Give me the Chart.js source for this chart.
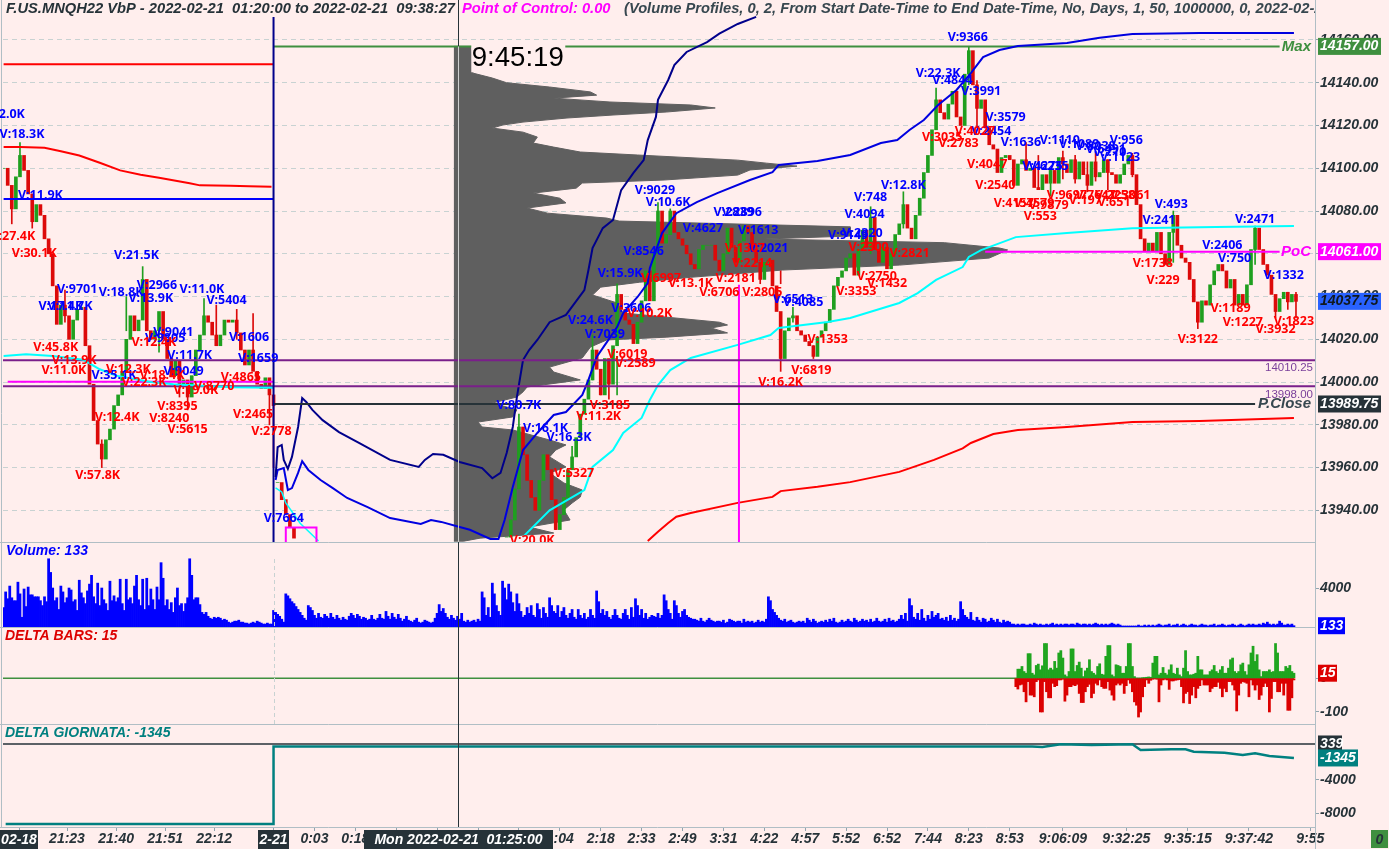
<!DOCTYPE html>
<html>
<head>
<meta charset="utf-8">
<title>F.US.MNQH22 VbP</title>
<script src="https://cdn.jsdelivr.net/npm/chart.js@4/dist/chart.umd.min.js"></script>
<style>
  html, body { margin: 0; padding: 0; background: #ffeeed; overflow: hidden; }
  canvas { display: block; }
</style>
</head>
<body>
<canvas id="chart" width="1389" height="849"></canvas>
<script>
// candle closes, a bar every second slot
const leftCloses = [14100,14092,14081,14096,14106,14099,14088,14075,14083,14078,
  14067,14060,14045,14027,14036,14031,14020,14029,14034,14035,
  14017,13999,13982,13971,13964,13973,13978,13989,13994,14005,
  14020,14031,14024,14029,14048,14024,14020,14024,14033,14020,
  14011,14003,14010,13999,14001,13993,14003,14015,14022,14031,
  14028,14022,14017,14022,14029,14028,14029,14023,14015,14008,
  14015,14005,13999,13997,14002,13994,13989];
const midCloses = [13953,13945,13938,13932,13927];
const rightCloses = [13927.5,13935.5,13950,13979,13966,13954,13946,13940,13954,13966,
  13959,13945,13931,13938,13946,13959,13965,13974,13985,13992,
  14001,14015,14006,13994,14011,13999,14017,14041,14034,14029,
  14027,14018,14028,14038,14052,14038,14060,14080,14065,14069,
  14080,14070,14067,14064,14060,14055,14053,14062,14064,14064,
  14064,14057,14052,14060,14072,14063,14056,14066,14073,14070,
  14062,14056,14048,14056,14057,14045,14033,14011,14024,14030,
  14031,14024,14022,14019,14017,14012,14021,14024,14028,14034,
  14045,14049,14052,14058,14060,14050,14062,14071,14063,14077,
  14062,14056,14063,14053,14060,14069,14074,14083,14072,14067,
  14078,14086,14098,14106,14118,14132,14126,14123,14130,14136,
  14124,14120,14144,14155,14139,14128,14132,14119,14111,14109,
  14098,14105,14106,14104,14092,14102,14104,14099,14100,14091,
  14090,14097,14093,14099,14093,14105,14102,14098,14104,14095,
  14103,14097,14092,14103,14096,14098,14104,14098,14097,14093,
  14097,14102,14106,14097,14083,14067,14061,14065,14061,14070,
  14060,14055,14070,14078,14064,14058,14056,14048,14037.5,14028,
  14038,14036,14045.5,14052,14055,14052,14044,14048,14036,14041,
  14036,14045.5,14062,14072,14062,14055,14050,14041,14033,14039,
  14042,14037.5,14041,14037.75];
const leftStart = 0, midStart = 134, rightStart = 246;

// notable wicks: bar, low, high
const wicks = [[8,14098,14112],[4,14074,14088],[14,14072,14085],[30,14028,14043],[48,13960,13973],
  [68,14030,14054],[98,14026,14039],[90,13987,14000],[86,13993,14004],[114,14020,14034],
  [130,13980,13996],[132,13960,13992],[252,13966,13985],[270,13931,13940],[278,13965,13970],
  [288,14001,14022],[292,13994,14006],[296,13992,14010],[300,13994,14012],[300,14030,14046],
  [320,14060,14084],[326,14069,14081],[370,14046,14056],[380,14046,14052],[380,14005,14011],
  [386,14028,14035],[396,14011,14017],[424,14060,14082],[440,14072,14089],[456,14120,14137.5],
  [472,14139,14157],[476,14119,14141],[572,14056,14080],[584,14025,14037],[612,14055,14073],
  [622,14030,14040],[500,14100,14112],[506,14090,14106],[530,14089,14103],[552,14096,14107],
  [628,14034,14042],[632,14030,14042],[60,14024,14040],[76,14014,14032],[104,14020,14036],
  [122,14012,14032],[512,14087,14100],[518,14095,14108],[524,14093,14106],[534,14094,14107],[540,14090,14104]];

// candle chart lines
const navyBars = [133,134,136,137,139,141,144,146,148,151,156,164,174,189,203,206,210,215,223,234,239,243,246,249,251,254,257,261,267,275,284,286,288,293,298,302,308,313,315,319,320,325,328,334,344,350,359,368];
const navyPrices = [13955.6,13969.6,13970.6,13963.6,13959.4,13965,13979,13992.5,13990.7,13987,13982.2,13976.6,13971.5,13963.6,13960.3,13963.6,13966.4,13966,13962.6,13959.8,13955,13957.5,13966.8,13979,13993,14010.3,14015,14019.7,14028,14031.4,14043,14052.4,14062.7,14072,14075.8,14089.8,14097.8,14103.8,14113.2,14124,14132,14141.3,14148.3,14154.4,14159,14163,14167.5,14170.8];
const blueBars = [133,134,137,139,141,144,146,149,155,161,168,178,189,204,209,214,223,228,238,242,245,249,254,261,269,275,283,286,290,295,300,303,310,315,316,322,329,339,349,365,376,379,398,414,429,437,443,450,457,466,473,479,487,496,520,536,552,585,631];
const bluePrices = [13954.2,13958.9,13959.8,13949.5,13950.4,13957.5,13963,13958.9,13954.2,13950.4,13945.8,13941.5,13936.4,13933.6,13935.5,13934.6,13932.2,13930.9,13926.6,13926.6,13935.5,13950.9,13968.2,13976.2,13984.6,13986,13994,14001,14011.7,14018.7,14025.7,14032.3,14039.8,14046.3,14053.3,14069.7,14079,14084.2,14088.4,14094.5,14098.2,14101.5,14103.4,14106.2,14111.8,14113.2,14117.9,14122.6,14129.6,14136.6,14144.5,14152,14155.3,14157.2,14158.6,14161,14162.8,14163.3,14163.3];
const cyanEarlyBars = [133,136,138,145,154];
const cyanEarlyPrices = [13950.5,13948.6,13943.5,13934,13925.7];
const cyanBars = [254,267,284,288,298,303,312,316,320,326,336,359,375,379,403,414,438,447,456,469,472,478,495,520,552,593,631];
const cyanPrices = [13927.6,13940,13949.5,13960.3,13968.2,13976.2,13983.2,13991.6,13998.6,14005.6,14011.3,14017.4,14022,14025.3,14028.1,14030,14037,14041.6,14047.8,14053.8,14058.5,14061.7,14067.8,14069.7,14072,14072.5,14073];
const redBars = [315,320,325,329,336,359,376,380,398,414,438,455,469,473,484,496,520,552,585,631];
const redPrices = [13925.7,13930,13934.1,13937,13938.8,13943.5,13946.3,13949,13951,13953.2,13958,13963.6,13969,13971.5,13975.7,13977.6,13979,13981.3,13981.8,13983.2];
const prevRedBars = [0,8,20,28,37,47,57,67,76,91,96,111,120,131];
const prevRedPrices = [14110,14110,14109.6,14108,14106,14102.6,14099,14097,14095.6,14093,14092,14091.8,14091.6,14091.3];
const prevCyanBars = [0,11,24,39,47,55,72,83,112,132];
const prevCyanPrices = [14012.2,14013,14012.2,14010.4,14006,14003,14000,13999,13997.6,13997.4];

// volume profile outline, top to bottom
const profilePrices = [14157,14144.5,14142.2,14140,14138,14135.7,14134.2,14132.8,14131,14129.6,14128.2,14126.3,14124.9,14123.5,14121.6,14120.2,14118.8,14116.9,14114.6,14111.8,14109.9,14107.6,14106.2,14103.8,14102.4,14101,14099.2,14096.8,14094.5,14093.1,14090.7,14088.4,14086,14083.8,14081.4,14079,14076.7,14075.3,14072.6,14072,14068.3,14066.9,14065.2,14062.7,14061.8,14058,14054.7,14052.4,14049,14046.7,14044.4,14040.7,14037,14032.3,14028,14026.7,14025.3,14023,14021,14019.7,14016.4,14011.3,14007,14004.7,14001,13997.7,13995.4,13993,13990.2,13987,13983.7,13981.3,13979,13977.6,13972.9,13970.6,13968.2,13965,13960.3,13957.5,13952.8,13949.5,13946.2,13943.4,13940.2,13935.5,13932.2,13929.4,13927,13925.6];
const profileEnds = [228.5,229.5,239,246,267,287,290,269,296.5,336,348,324,298,275.5,254,244,239,254,261,259,269,282,310,359,373,388,365,359,323,283,280,259,272,275,256,266,295,301,414,414,414,372,460,487,491,482,438,381,336,311,292,288,300,303,350,354,346,354,324,295,287,283,267,269,282,256,254,251,239,251,249,232,234,249,267,275,270,267,275,267,274,283,282,278,274,277,257,269,233,225];
const profileBase = 220.2;

// volume per bar, in hundreds
const volumeHundreds = [20,36,29,42,30,27,27,46,34,10, 39,21,41,33,33,31,31,31,27,22,
  31,26,70,56,40,27,30,18,42,36, 25,30,40,38,26,28,17,48,35,30,
  24,37,44,53,31,24,45,22,40,28, 24,17,47,27,32,26,30,49,24,17,
  49,28,30,24,42,53,28,22,49,18, 50,22,39,28,18,41,28,66,50,22,
  28,18,25,15,30,40,22,24,16,24, 30,70,53,28,30,30,23,15,13,15,
  11,9,8,10,9,10,9,7,8,7, 5,4,5,6,6,7,5,5,4,4,
  3,4,5,4,6,5,4,3,3,4, 3,3,17,15,13,11,8,5,34,32,
  29,26,24,21,18,15,12,9,7,22, 20,17,12,9,14,10,9,13,11,9,
  14,10,8,12,9,7,10,8,7,11, 14,12,9,13,11,8,10,9,7,8,
  12,8,7,9,13,9,8,16,11,8, 14,10,8,13,9,6,8,11,7,6,
  5,7,9,5,4,5,7,6,5,4, 5,9,14,23,16,19,14,10,8,12,
  9,7,11,8,14,6,5,7,5,6, 7,5,8,6,36,30,12,20,10,45,
  34,22,16,12,47,40,28,44,36,25, 16,34,24,16,10,12,20,14,22,12,
  10,24,18,9,20,14,10,30,22,16, 14,22,10,16,20,12,9,14,18,10,
  8,18,12,9,14,8,10,18,12,9, 37,26,14,18,12,16,10,8,12,18,
  12,9,8,14,18,12,8,20,10,29, 22,12,18,9,14,8,10,12,11,10,
  14,9,12,33,27,18,14,8,27,22, 14,10,16,18,12,10,9,8,8,7,
  6,9,6,5,7,9,7,6,5,6, 6,5,7,4,5,8,7,6,5,6,
  6,4,8,5,6,5,6,4,5,7, 5,6,5,8,31,27,18,15,12,9,
  7,6,8,5,6,7,5,4,5,6, 5,6,4,9,7,5,8,6,4,5,
  6,5,7,5,8,6,9,5,4,5, 7,5,6,8,6,5,9,7,5,6,
  8,6,7,5,8,5,6,9,6,5, 6,8,5,9,6,7,5,6,8,12,
  8,14,6,29,22,10,8,14,7,18, 9,6,12,8,16,10,12,14,8,9,
  7,10,6,12,7,9,6,8,26,18, 12,10,8,15,7,6,10,7,5,9,
  8,5,6,9,7,5,8,5,4,7, 5,6,5,3,3,2,3,2,3,3,
  2,2,3,2,4,3,2,3,2,2, 3,2,3,4,2,3,2,3,2,3,
  3,2,3,3,2,4,3,2,3,3, 2,3,2,3,4,3,2,3,2,3,
  2,3,4,3,2,3,2,1,1,1, 1,1,1,1,1,2,1,1,2,1,
  2,1,2,1,2,3,2,1,2,2, 3,1,2,2,3,1,2,3,2,1,
  2,3,2,2,1,2,3,2,2,1, 2,2,3,1,2,2,3,2,1,2,
  2,3,2,1,2,3,2,1,2,3, 2,3,2,2,3,2,4,3,5,3,
  2,3,2,3,6,4,2,2,3,2,3,1.33];

// delta bars, starting at deltaStart
const deltaStart = 495;
const deltaUp = [0,27,27,35,20,15,73,73,15,10, 38,42,25,37,103,103,25,30,25,50,
  30,75,82,60,10,5,20,87,87,20, 38,48,30,5,22,30,55,20,15,10,
  35,43,12,10,65,97,97,10,5,40, 38,35,15,15,35,103,103,35,5,0,
  0,0,1,2,3,4,3, 45,65,65,10,15,32,15,10,25,40,
  15,12,30,10,5,30,82,20,10,10, 12,15,65,25,25,10,10,10,20,25,
  38,20,15,25,35,15,15,30,55,60, 20,15,20,40,45,20,10,40,75,95,
  50,70,25,5,20,20,20,25,18,20, 103,75,20,20,20,35,30,38,20,15];
const deltaDown = [-25,-32,-20,-18,-40,-70,-10,-50,-50,-55, -10,-5,-100,-100,-10,-40,-58,-58,-15,-25,
  -22,-5,-5,-3,-68,-50,-25,-25,-20,-22, -18,-45,-72,-72,-40,-25,-18,-58,-45,-15,
  -20,-5,-25,-30,-30,-10,-35,-50,-65,-20, -15,-20,-15,-45,-22,-5,-15,-40,-70,-80,
  -115,-100,-55,-25,-5,-15,-6, -3,-2,-3,-70,-20,-5,-3,-5,-33,-8,
  -8,-6,-5,-4,-25,-73,-45,-40,-75,-50, -25,-58,-30,-22,-5,-20,-20,-20,-40,-30,
  -25,-25,-12,-30,-55,-30,-40,-10,-10,-20, -35,-97,-50,-15,-10,-12,-15,-55,-5,-20,
  -35,-20,-63,-50,-25,-15,-25,-100,-60,-10, -10,-40,-40,-15,-50,-15,-95,-95,-58,-5];

// cumulative delta of the day
const dayDeltaBars = [1,132,132,503,508,517,532,552,556,571,578,582,597,606,612,619,631];
const dayDeltaValues = [-9301,-9301,50,50,-25,300,216,300,-386,-300,-300,-590,-710,-990,-780,-1100,-1345];

// bar labels: bar, price, text
const blueTags = [[4,14125,'2.0K'],[9,14116,'V:18.3K'],[18,14087.5,'V:11.9K'],[65,14059,'V:21.5K'],[36,14043.5,'V:9701'],
  [28,14035.5,'V:17.4K'],[32.5,14035.5,'V:11.7K'],[57.5,14042,'V:18.8K'],[75,14045.4,'V:2966'],[72,14039,'V:13.9K'],
  [97,14043.5,'V:11.0K'],[109,14038.4,'V:5404'],[83,14023.4,'V:9041'],[79,14020.6,'V:9805'],[120,14021,'V:1606'],
  [91,14012.6,'V:11.7K'],[124.5,14011,'V:1659'],[54,14003,'V:35.1K'],[88,14005,'V:9049'],[137,13936,'V:7664'],
  [252,13989,'V:80.7K'],[265,13978.5,'V:16.1K'],[276.5,13974.3,'V:16.3K'],[287,14029,'V:24.6K'],[294,14022.5,'V:7039'],
  [301.5,14051,'V:15.9K'],[307,14034.6,'V:3606'],[313,14061,'V:8546'],[318.5,14089.4,'V:9029'],[325,14084,'V:10.6K'],
  [342,14072,'V:4627'],[357,14079.5,'V:2839'],[361,14079.5,'V:2896'],[369,14071,'V:1613'],[374,14062.7,'V:2021'],
  [386,14038.8,'V:6513'],[391,14037.4,'V:4085'],[413,14068.8,'V:9149'],[420,14069.7,'V:2320'],[421,14078.5,'V:4094'],
  [424,14086.5,'V:748'],[440,14092,'V:12.8K'],[457,14144.5,'V:22.3K'],[464,14141,'V:4844'],[478,14135.7,'V:3991'],
  [471.5,14161.4,'V:9366'],[490,14124,'V:3579'],[483,14117.4,'V:2454'],[497.5,14112,'V:1636'],[516.5,14113,'V:1110'],
  [526,14111,'V:1089'],[534,14110,'V:8038'],[539,14109,'V:6491'],[541,14107.6,'V:710'],[546,14105,'V:1123'],
  [549,14113,'V:956'],[508,14101,'V:4275'],[511,14101,'V:6235'],[596,14063.7,'V:2406'],[602,14057.6,'V:750'],
  [612,14076.3,'V:2471'],[626,14050,'V:1332'],[565,14075.4,'V:241'],[571,14083.2,'V:493']];
const redTags = [[4.5,14068.3,'V:27.4K'],[15,14060.3,'V:30.1K'],[25.5,14016.4,'V:45.8K'],[34.5,14010,'V:13.9K'],[29.5,14005.6,'V:11.0K'],
  [61,14006,'V:12.3K'],[73.5,14018.4,'V:12.4K'],[68.7,14000,'V:22.3K'],[77.5,14003,'V:18.4K'],[103,13998,'V:8770'],
  [94,13996.3,'V:19.0K'],[116,14002,'V:4865'],[85,13988.4,'V:8395'],[81,13983,'V:8240'],[90,13978,'V:5615'],
  [122,13985,'V:2465'],[131,13977,'V:2778'],[55.5,13983.6,'V:12.4K'],[46,13956.5,'V:57.8K'],
  [258.5,13926,'V:20.0K'],[279,13957.4,'V:5327'],[291,13984,'V:11.2K'],[296.5,13989,'V:3185'],[309,14008.5,'V:2589'],
  [305,14013,'V:6019'],[316,14032,'V:10.2K'],[321.5,14048.6,'V:6997'],[336,14046.3,'V:13.1K'],[350,14042,'V:6706'],
  [358,14048.6,'V:2181'],[371,14041.7,'V:2805'],[366,14055.6,'V:2214'],[362.5,14062.7,'V:1307'],[380,14000,'V:16.2K'],
  [395,14005.3,'V:6819'],[403,14020,'V:1353'],[417,14042.6,'V:3353'],[427,14049.6,'V:2750'],[432,14046.3,'V:1432'],
  [423,14063.2,'V:2300'],[443,14060.3,'V:2821'],[459,14114.6,'V:3035'],[467,14111.8,'V:2783'],[475,14117.4,'V:4027'],
  [481,14102,'V:4047'],[485,14092,'V:2540'],[494,14083.7,'V:4157'],[504,14083.7,'V:4579'],[511,14082.4,'V:9879'],
  [507,14077.7,'V:553'],[520,14087.4,'V:9697'],[534,14087.4,'V:7647'],[543.5,14087.4,'V:2258'],[551,14087.4,'V:3061'],
  [543,14084,'V:651'],[529,14085,'V:197'],[562,14055.6,'V:1738'],[567,14047.7,'V:229'],[584,14020,'V:3122'],
  [600,14034.6,'V:1189'],[606,14028,'V:1227'],[622,14024.8,'V:3932'],[631,14028.5,'V:1823']];

// axis ticks
const priceTicks = [14160,14140,14120,14100,14080,14060,14040,14020,14000,13980,13960,13940];
const volumeTicks = [4000];
const deltaTicks = [0,-100];
const dayDeltaTicks = [-4000,-8000];
const xTickBars = [8,31,55,79,103,132,152,172,192,212,232,252,272,292,312,332,352,372,392,412,432,452,472,492,518,549,579,609,639];
const xTickLabels = ['','21:23','21:40','21:51','22:12','','0:03','0:18','','','','','1:04','2:18','2:33','2:49','3:31','4:22','4:57','5:52','6:52','7:44','8:23','8:53','9:06:09','9:32:25','9:35:15','9:37:42','9:55'];

const DARK = '#263238';
const CANDLE_UP = '#1f9f1f';
const CANDLE_DOWN = '#dc0a0a';
const AXIS_FONT = { family: '"Liberation Sans"', size: 14, weight: 'bold', style: 'italic' };
const X_MIN = -0.3, X_MAX = 641.3, CROSS_BAR = 222.4;
const PRICE_TOP = 14178.7, PRICE_BOTTOM = 13925.2;

function zip(bars, values) { return bars.map(function(b, i) { return { x: b, y: values[i] }; }); }

function lineSet(points, color, width, axis, order) {
  return { type: 'line', data: points, borderColor: color, borderWidth: width, pointRadius: 0,
    tension: 0, fill: false, yAxisID: axis || 'price', xAxisID: 'x', order: order === undefined ? 1 : order };
}

function candleSet(closes, start) {
  var bodies = closes.map(function(c, i) {
    return { x: start + i * 2, y: [i ? closes[i - 1] : c, c] };
  });
  return { type: 'bar', data: bodies, barThickness: 3, grouped: false, yAxisID: 'price', xAxisID: 'x', order: 4,
    backgroundColor: bodies.map(function(b) { return b.y[1] >= b.y[0] ? CANDLE_UP : CANDLE_DOWN; }) };
}

function wickColor(bar) {
  var groups = [[leftCloses, leftStart], [midCloses, midStart], [rightCloses, rightStart]];
  for (var g = 0; g < groups.length; g++) {
    var k = (bar - groups[g][1]) / 2;
    if (k >= 1 && k < groups[g][0].length) {
      return groups[g][0][k] >= groups[g][0][k - 1] ? CANDLE_UP : CANDLE_DOWN;
    }
  }
  return CANDLE_DOWN;
}

function setTicks(values) {
  return function(scale) { scale.ticks = values.map(function(v) { return { value: v }; }); };
}

function yAxis(top, bottom, weight, order, ticks, labelFn, gridOn) {
  return {
    type: 'linear', position: 'right', stack: 'panes', stackWeight: weight, weight: order,
    min: bottom, max: top,
    afterBuildTicks: setTicks(ticks),
    afterFit: function(scale) { scale.width = 74; scale.paddingTop = 0; scale.paddingBottom = 0; },
    border: { display: false, dash: gridOn ? [5, 4] : [] },
    grid: { color: '#c8d2d2', drawOnChartArea: gridOn, tickLength: 4, tickColor: '#90a4ae', lineWidth: 1, tickBorderDash: [] },
    ticks: { color: DARK, font: AXIS_FONT, padding: 1, autoSkip: false, includeBounds: false, callback: labelFn }
  };
}

function plain(v) { return String(v); }

// text and boxes that sit on top of the marks
const overlay = {
  id: 'overlay',
  afterDatasetsDraw: function(chart) {
    var ctx = chart.ctx, sx = chart.scales.x, area = chart.chartArea;
    var price = chart.scales.price, vol = chart.scales.volume, delta = chart.scales.delta, day = chart.scales.dayDelta;
    var crossX = sx.getPixelForValue(CROSS_BAR);
    var rightX = area.right;

    function text(str, x, y, color, font, align) {
      ctx.font = font; ctx.fillStyle = color; ctx.textAlign = align || 'left'; ctx.textBaseline = 'middle';
      ctx.fillText(str, x, y);
    }
    function vline(x, y0, y1, color, dash) {
      ctx.save(); ctx.strokeStyle = color; ctx.lineWidth = 1; ctx.setLineDash(dash || []);
      ctx.beginPath(); ctx.moveTo(Math.round(x) + 0.5, y0); ctx.lineTo(Math.round(x) + 0.5, y1); ctx.stroke(); ctx.restore();
    }
    function hline(y, x0, x1, color) {
      ctx.save(); ctx.strokeStyle = color; ctx.lineWidth = 1;
      ctx.beginPath(); ctx.moveTo(x0, Math.round(y) + 0.5); ctx.lineTo(x1, Math.round(y) + 0.5); ctx.stroke(); ctx.restore();
    }

    // pane frame
    [price.bottom, vol.bottom, delta.bottom, day.bottom].forEach(function(y) { hline(y, 0, rightX, '#b0bec5'); });
    vline(rightX, 0, chart.height, '#b0bec5');
    vline(1, 0, day.bottom, '#b0bec5');
    vline(sx.getPixelForValue(132), vol.top + 17, delta.bottom, '#c8d2d2', [4, 3]);

    // crosshair, light where it runs over the profile
    vline(crossX, 0, day.bottom, DARK);
    vline(crossX, price.getPixelForValue(14157), price.bottom, '#d0d0d0');

    // clock box
    ctx.fillStyle = '#ffeeed';
    ctx.fillRect(sx.getPixelForValue(228.7), price.getPixelForValue(14158), 94, 28);
    text('9:45:19', sx.getPixelForValue(228.9), 58, '#000', '27.6px "Liberation Sans"');

    // bar labels, kept inside the price pane
    ctx.save();
    ctx.beginPath(); ctx.rect(0, 0, rightX, price.bottom); ctx.clip();
    var tagFont = 'bold 12.5px "Noto Sans"';
    blueTags.forEach(function(t) { text(t[2], sx.getPixelForValue(t[0]), price.getPixelForValue(t[1]), '#0000ff', tagFont, 'center'); });
    redTags.forEach(function(t) { text(t[2], sx.getPixelForValue(t[0]), price.getPixelForValue(t[1]), '#ff0000', tagFont, 'center'); });
    ctx.restore();

    // header
    var head = 'italic bold 14.7px "Liberation Sans"';
    text('F.US.MNQH22 VbP - 2022-02-21  01:20:00 to 2022-02-21  09:38:27', 6, 9, DARK, head);
    text('Point of Control: 0.00', 462, 9, '#ff00ff', head);
    ctx.save();
    ctx.beginPath(); ctx.rect(0, 0, rightX, 20); ctx.clip();
    text('(Volume Profiles, 0, 2, From Start Date-Time to End Date-Time, No, Days, 1, 50, 1000000, 0, 2022-02-21', 624, 9, '#37474f', head);
    ctx.restore();

    // pane titles
    var pane = 'italic bold 14px "Liberation Sans"';
    text('Volume: 133', 6, vol.top + 9, '#0000ff', pane);
    text('DELTA BARS: 15', 5, delta.top + 9, '#dd0000', pane);
    text('DELTA GIORNATA: -1345', 5, day.top + 9, '#008080', pane);

    // line captions
    var cap = 'italic bold 15px "Liberation Sans"';
    text('Max', 1311, price.getPixelForValue(14157), '#3f8f3f', cap, 'right');
    text('PoC', 1311, price.getPixelForValue(14061), '#ff00ff', cap, 'right');
    text('P.Close', 1311, price.getPixelForValue(13989.75), '#37474f', cap, 'right');
    text('14010.25', 1313, price.getPixelForValue(14010.25) + 8, '#7a3f9a', '11.5px "Liberation Sans"', 'right');
    text('13998.00', 1313, price.getPixelForValue(13998) + 8, '#7a3f9a', '11.5px "Liberation Sans"', 'right');

    // value flags on the right axis
    function flag(y, str, bg, fg, w) {
      ctx.fillStyle = bg; ctx.fillRect(1318, y - 8.5, w, 17);
      text(str, 1320, y, fg, 'italic bold 14px "Liberation Sans"');
    }
    flag(price.getPixelForValue(14157), '14157.00', '#3f8f3f', '#fff', 63);
    flag(price.getPixelForValue(14061), '14061.00', '#ff00ff', '#fff', 63);
    flag(price.getPixelForValue(14037.75), '14037.75', '#2962ff', '#10181c', 63);
    flag(price.getPixelForValue(13989.75), '13989.75', DARK, '#fff', 63);
    flag(vol.getPixelForValue(133), '133', '#0000ff', '#fff', 27);
    flag(delta.getPixelForValue(15), '15', '#dd0000', '#fff', 19);
    flag(day.getPixelForValue(339), '339', DARK, '#fff', 24);
    flag(day.getPixelForValue(-1345), '-1345', '#008080', '#fff', 40);

    // time axis flags
    function timeFlag(x0, x1, str) {
      ctx.fillStyle = DARK; ctx.fillRect(x0, day.bottom + 3, x1 - x0, 19);
      text(str, (x0 + x1) / 2, day.bottom + 13, '#fff', 'italic bold 14px "Liberation Sans"', 'center');
    }
    timeFlag(0, 38, '02-18');
    timeFlag(258, 289, '2-21');
    timeFlag(364, 553, 'Mon 2022-02-21  01:25:00');
    ctx.fillStyle = '#3f8f3f'; ctx.fillRect(1371, 830, 17, 18);
    text('0', 1379.5, 840, DARK, 'italic bold 14px "Liberation Sans"', 'center');
  }
};

// volume profile polygon closed on its base
var profilePoints = [{ x: profileBase, y: profilePrices[0] }]
  .concat(zip(profileEnds, profilePrices))
  .concat([{ x: profileBase, y: profilePrices[profilePrices.length - 1] }]);

var datasets = [
  { type: 'line', data: profilePoints, borderColor: '#5f5f5f', borderWidth: 1, backgroundColor: '#5f5f5f', pointRadius: 0,
    tension: 0, fill: 'shape', yAxisID: 'price', xAxisID: 'x', order: 9 },
  { type: 'bar', data: wicks.map(function(w) { return { x: w[0], y: [w[1], w[2]] }; }), barThickness: 1, grouped: false,
    backgroundColor: wicks.map(function(w) { return wickColor(w[0]); }), yAxisID: 'price', xAxisID: 'x', order: 5 },
  candleSet(leftCloses, leftStart),
  candleSet(midCloses, midStart),
  candleSet(rightCloses, rightStart),
  lineSet(zip([0, 132], [14148.7, 14148.7]), '#ff0000', 2),
  lineSet(zip(prevRedBars, prevRedPrices), '#ff0000', 2),
  lineSet(zip([0, 132], [14085.6, 14085.6]), '#0000ff', 2),
  lineSet(zip(prevCyanBars, prevCyanPrices), '#00ffff', 2),
  lineSet(zip([2, 132], [14000.2, 14000.2]), '#ff00ff', 2),
  lineSet(zip([132, 624], [14157, 14157]), '#3f8f3f', 2, 'price', 3),
  lineSet(zip([480, 624], [14061, 14061]), '#ff00ff', 2),
  lineSet(zip([132, 612], [13989.75, 13989.75]), DARK, 2),
  lineSet(zip([X_MIN, X_MAX], [14010.25, 14010.25]), '#7a1f8a', 2),
  lineSet(zip([X_MIN, X_MAX], [13998, 13998]), '#7a1f8a', 2),
  lineSet(zip([359.6, 359.6], [14045.5, PRICE_BOTTOM]), '#ff00ff', 2),
  lineSet(zip([138, 138, 153, 153], [PRICE_BOTTOM, 13932, 13932, PRICE_BOTTOM]), '#ff00ff', 2),
  lineSet(zip(cyanEarlyBars, cyanEarlyPrices), '#00ffff', 1.5),
  lineSet(zip(cyanBars, cyanPrices), '#00ffff', 2),
  lineSet(zip(redBars, redPrices), '#ff0000', 2),
  lineSet(zip(navyBars, navyPrices), '#00008b', 2),
  lineSet(zip(blueBars, bluePrices), '#0000e0', 2),
  lineSet(zip([132, 132], [PRICE_BOTTOM, 14170.7]), '#00008b', 2, 'price', 0),
  { type: 'bar', data: volumeHundreds.map(function(v, i) { return { x: i, y: v * 100 }; }), barThickness: 2.1, grouped: false,
    backgroundColor: '#0000ff', yAxisID: 'volume', xAxisID: 'x', order: 2 },
  lineSet(zip([X_MIN, 631], [0, 0]), '#3f8f3f', 1.5, 'delta', 3),
  { type: 'bar', data: deltaDown.map(function(v, i) { return { x: deltaStart + i, y: v }; }), barThickness: 2.1, grouped: false,
    backgroundColor: '#dc0000', yAxisID: 'delta', xAxisID: 'x', order: 2 },
  { type: 'bar', data: deltaUp.map(function(v, i) { return { x: deltaStart + i, y: v }; }), barThickness: 2.1, grouped: false,
    backgroundColor: '#1fa51f', yAxisID: 'delta', xAxisID: 'x', order: 2 },
  lineSet(zip([X_MIN, X_MAX], [339, 339]), DARK, 1.5, 'dayDelta', 3),
  lineSet(zip(dayDeltaBars, dayDeltaValues), '#008080', 2.5, 'dayDelta', 2)
];

new Chart('chart', {
  data: { datasets: datasets },
  options: {
    responsive: false,
    animation: false,
    devicePixelRatio: 1,
    layout: { autoPadding: false, padding: { left: 3, right: 0, top: 0, bottom: 0 } },
    plugins: { legend: { display: false }, tooltip: { enabled: false }, title: { display: false } },
    events: [],
    scales: {
      x: {
        type: 'linear', position: 'bottom', min: X_MIN, max: X_MAX, offset: false,
        afterBuildTicks: setTicks(xTickBars),
        afterFit: function(scale) { scale.height = 22; scale.paddingLeft = 0; scale.paddingRight = 0; },
        border: { display: false },
        grid: { offset: false, drawOnChartArea: false, tickLength: 4, tickColor: '#90a4ae' },
        ticks: { color: DARK, font: AXIS_FONT, padding: 0, maxRotation: 0, autoSkip: false, includeBounds: false,
          callback: function(value) { return xTickLabels[xTickBars.indexOf(value)]; } }
      },
      price: yAxis(PRICE_TOP, PRICE_BOTTOM, 542, 0, priceTicks, function(v) { return v.toFixed(2); }, true),
      volume: yAxis(8720, 0, 85, 1, volumeTicks, plain, false),
      delta: yAxis(152, -135.6, 97, 2, deltaTicks, plain, false),
      dayDelta: yAxis(2747, -9663, 103, 3, dayDeltaTicks, plain, false)
    }
  },
  plugins: [overlay]
});
</script>
</body>
</html>
